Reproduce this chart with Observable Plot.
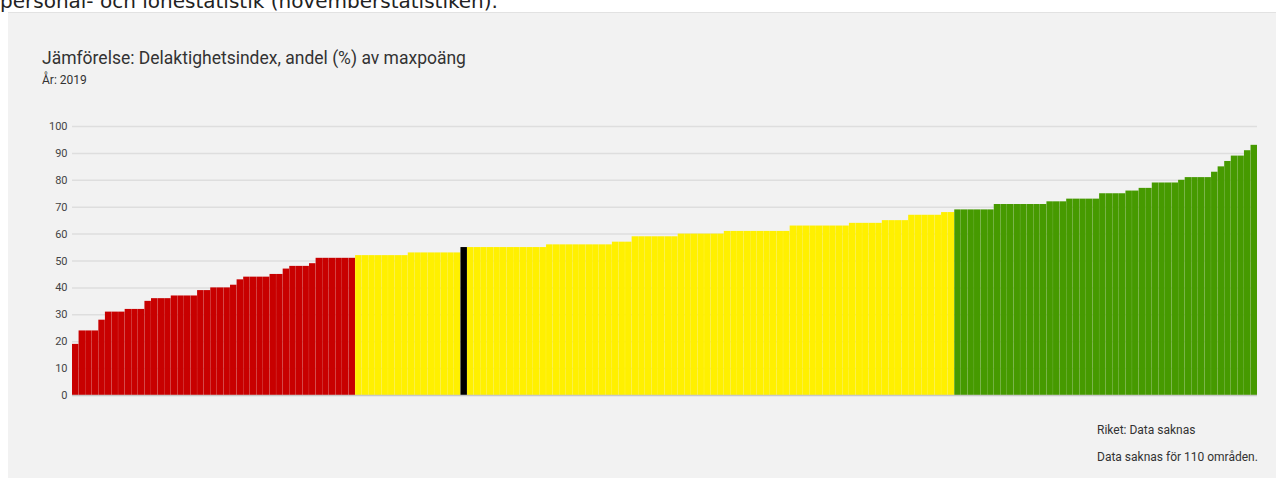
<!DOCTYPE html>
<html>
<head>
<meta charset="utf-8">
<script src="https://cdn.jsdelivr.net/npm/d3@7"></script>
<script src="https://cdn.jsdelivr.net/npm/@observablehq/plot@0.6"></script>
<style>
  html, body { margin: 0; padding: 0; background: #ffffff; width: 1282px; height: 478px; overflow: hidden; position: relative; }
  .top { position: absolute; left: 0; top: -9px; font: 20px "DejaVu Sans", Verdana, sans-serif; color: #222; line-height: 1; white-space: nowrap; }
  .panel { position: absolute; left: 8px; top: 12px; width: 1268px; height: 466px; background: #f2f2f2; border-top: 1px solid #e2e2e2; }
  .t { position: absolute; font-family: Roboto, "Noto Sans", sans-serif; line-height: 1; white-space: nowrap; color: #333; }
  #chart { position: absolute; left: 0px; top: 97px; }
</style>
</head>
<body>
<div class="top">personal- och lönestatistik (novemberstatistiken).</div>
<div class="panel">
  <div class="t" style="left:34px; top:37px; font-size:17.5px;">Jämförelse: Delaktighetsindex, andel (%) av maxpoäng</div>
  <div class="t" style="left:34px; top:61px; font-size:12px;">År: 2019</div>
  <div id="chart"></div>
  <div class="t" style="left:1089px; top:411px; font-size:12px;">Riket: Data saknas</div>
  <div class="t" style="left:1089px; top:438px; font-size:12px;">Data saknas för 110 områden.</div>
</div>
<script>
// Values (% of max points) for the 180 areas with data, sorted ascending
const values = [
  19, 24, 24, 24, 28, 31, 31, 31, 32, 32, 32, 35, 36, 36, 36, 37, 37, 37, 37, 39,
  39, 40, 40, 40, 41, 43, 44, 44, 44, 44, 45, 45, 47, 48, 48, 48, 49, 51, 51, 51,
  51, 51, 51, 52, 52, 52, 52, 52, 52, 52, 52, 53, 53, 53, 53, 53, 53, 53, 53, 55,
  55, 55, 55, 55, 55, 55, 55, 55, 55, 55, 55, 55, 56, 56, 56, 56, 56, 56, 56, 56,
  56, 56, 57, 57, 57, 59, 59, 59, 59, 59, 59, 59, 60, 60, 60, 60, 60, 60, 60, 61,
  61, 61, 61, 61, 61, 61, 61, 61, 61, 63, 63, 63, 63, 63, 63, 63, 63, 63, 64, 64,
  64, 64, 64, 65, 65, 65, 65, 67, 67, 67, 67, 67, 68, 68, 69, 69, 69, 69, 69, 69,
  71, 71, 71, 71, 71, 71, 71, 71, 72, 72, 72, 73, 73, 73, 73, 73, 75, 75, 75, 75,
  76, 76, 77, 77, 79, 79, 79, 79, 80, 81, 81, 81, 81, 83, 85, 87, 89, 89, 91, 93
];
const highlightIndex = 59;          // the selected area (black bar)
const yTicks = [0, 10, 20, 30, 40, 50, 60, 70, 80, 90, 100];
const groupNames = ["low", "mid", "high", "selected"];
const groupColors = ["#c80000", "#fff000", "#469a00", "#000000"];
const lowMax = 51, midMax = 68;

const data = values.map((v, i) => ({
  i,
  v,
  g: i === highlightIndex ? "selected" : v <= lowMax ? "low" : v <= midMax ? "mid" : "high"
}));

const chart = Plot.plot({
  width: 1268,
  height: 299,
  marginLeft: 64,
  marginRight: 19,
  marginTop: 16,
  marginBottom: 14,
  style: { background: "transparent", fontFamily: "Roboto, sans-serif", overflow: "visible" },
  x: { type: "band", domain: d3.range(values.length), paddingInner: 0.02, paddingOuter: 0, axis: null },
  y: { domain: [0, 100], ticks: yTicks, tickSize: 0, tickPadding: 5, label: null },
  color: { domain: groupNames, range: groupColors },
  marks: [
    Plot.ruleY(yTicks.filter(t => t > 0), { stroke: "#dedede", strokeWidth: 1.5 }),
    Plot.barY(data, { x: "i", y: "v", fill: "g" }),
    Plot.ruleY([0], { stroke: "#c8c8c8", strokeWidth: 1.5 })
  ]
});
chart.querySelectorAll('g[aria-label="y-axis tick label"]').forEach(el => {
  el.setAttribute("font-size", "11");
  el.setAttribute("fill", "#444");
});
document.getElementById("chart").appendChild(chart);
</script>
</body>
</html>
